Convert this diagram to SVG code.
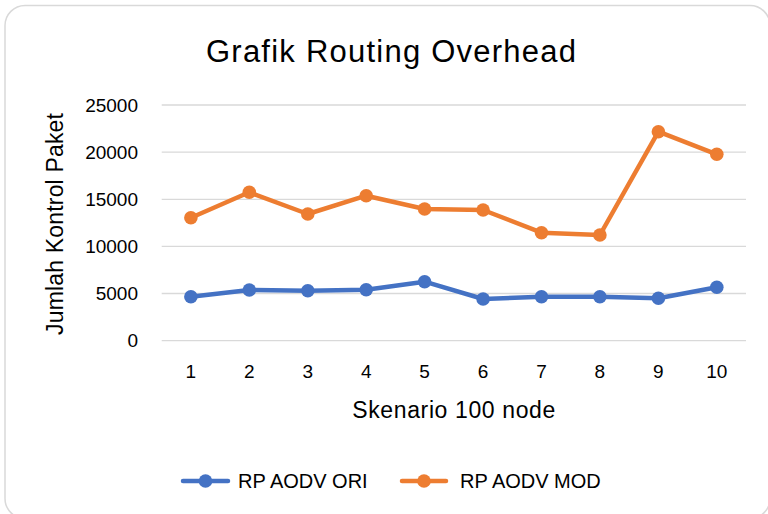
<svg xmlns="http://www.w3.org/2000/svg" width="768" height="514" viewBox="0 0 768 514">
  <style>
    text { font-family: "Liberation Sans", Arial, sans-serif; fill: #000; }
    .grid { stroke: #D9D9D9; stroke-width: 1.3; }
    .tick { font-size: 19px; }
    .ytick { text-anchor: end; }
    .xtick { text-anchor: middle; }
    .axis-title { font-size: 23px; text-anchor: middle; }
    .legend { font-size: 20px; }
    .ori { stroke: #4472C4; fill: none; stroke-width: 4.5; stroke-linejoin: round; stroke-linecap: round; }
    .mod { stroke: #ED7D31; fill: none; stroke-width: 4.5; stroke-linejoin: round; stroke-linecap: round; }
    .ori-dot { fill: #4472C4; }
    .mod-dot { fill: #ED7D31; }
  </style>

  <!-- chart area -->
  <rect x="0" y="0" width="768" height="514" fill="#FFFFFF"/>
  <rect x="5" y="5.5" width="765" height="513" rx="20" ry="20" fill="#FFFFFF" stroke="#D9D9D9" stroke-width="1.5"/>

  <!-- title -->
  <text x="391" y="62" font-size="31" text-anchor="middle" textLength="370">Grafik Routing Overhead</text>

  <!-- horizontal gridlines -->
  <g id="gridlines">
    <line class="grid" x1="161.7" y1="105" x2="746" y2="105"/>
    <line class="grid" x1="161.7" y1="152.2" x2="746" y2="152.2"/>
    <line class="grid" x1="161.7" y1="199.3" x2="746" y2="199.3"/>
    <line class="grid" x1="161.7" y1="246.4" x2="746" y2="246.4"/>
    <line class="grid" x1="161.7" y1="293.5" x2="746" y2="293.5"/>
    <line class="grid" x1="161.7" y1="340.6" x2="746" y2="340.6"/>
  </g>

  <!-- value axis -->
  <g id="y-axis" class="tick ytick">
    <text x="138" y="111.8">25000</text>
    <text x="138" y="159">20000</text>
    <text x="138" y="206.1">15000</text>
    <text x="138" y="253.2">10000</text>
    <text x="138" y="300.3">5000</text>
    <text x="138" y="347.4">0</text>
  </g>
  <text class="axis-title" transform="translate(63 224) rotate(-90)" textLength="222">Jumlah Kontrol Paket</text>

  <!-- category axis -->
  <g id="x-axis" class="tick xtick">
    <text x="190.9" y="378">1</text>
    <text x="249.3" y="378">2</text>
    <text x="307.8" y="378">3</text>
    <text x="366.2" y="378">4</text>
    <text x="424.6" y="378">5</text>
    <text x="483.1" y="378">6</text>
    <text x="541.5" y="378">7</text>
    <text x="599.9" y="378">8</text>
    <text x="658.4" y="378">9</text>
    <text x="716.8" y="378">10</text>
  </g>
  <text class="axis-title" x="453.8" y="417.5" textLength="203">Skenario 100 node</text>

  <!-- series: RP AODV ORI -->
  <g id="series-ori">
    <polyline class="ori" points="190.9,296.7 249.3,290 307.8,290.7 366.2,289.7 424.6,281.7 483.1,299 541.5,296.7 599.9,296.7 658.4,298.3 716.8,287.3"/>
    <g class="ori-dot">
      <circle cx="190.9" cy="296.7" r="6.8"/>
      <circle cx="249.3" cy="290" r="6.8"/>
      <circle cx="307.8" cy="290.7" r="6.8"/>
      <circle cx="366.2" cy="289.7" r="6.8"/>
      <circle cx="424.6" cy="281.7" r="6.8"/>
      <circle cx="483.1" cy="299" r="6.8"/>
      <circle cx="541.5" cy="296.7" r="6.8"/>
      <circle cx="599.9" cy="296.7" r="6.8"/>
      <circle cx="658.4" cy="298.3" r="6.8"/>
      <circle cx="716.8" cy="287.3" r="6.8"/>
    </g>
  </g>

  <!-- series: RP AODV MOD -->
  <g id="series-mod">
    <polyline class="mod" points="190.9,217.7 249.3,192.3 307.8,214 366.2,195.7 424.6,209 483.1,210 541.5,232.7 599.9,235 658.4,131.7 716.8,154.3"/>
    <g class="mod-dot">
      <circle cx="190.9" cy="217.7" r="6.8"/>
      <circle cx="249.3" cy="192.3" r="6.8"/>
      <circle cx="307.8" cy="214" r="6.8"/>
      <circle cx="366.2" cy="195.7" r="6.8"/>
      <circle cx="424.6" cy="209" r="6.8"/>
      <circle cx="483.1" cy="210" r="6.8"/>
      <circle cx="541.5" cy="232.7" r="6.8"/>
      <circle cx="599.9" cy="235" r="6.8"/>
      <circle cx="658.4" cy="131.7" r="6.8"/>
      <circle cx="716.8" cy="154.3" r="6.8"/>
    </g>
  </g>

  <!-- legend -->
  <g id="legend">
    <g id="legend-ori">
      <line class="ori" x1="183" y1="481" x2="228" y2="481"/>
      <circle class="ori-dot" cx="205.5" cy="481" r="6.8"/>
      <text class="legend" x="238" y="488">RP AODV ORI</text>
    </g>
    <g id="legend-mod">
      <line class="mod" x1="402" y1="481" x2="446" y2="481"/>
      <circle class="mod-dot" cx="424" cy="481" r="6.8"/>
      <text class="legend" x="460" y="488">RP AODV MOD</text>
    </g>
  </g>
</svg>
